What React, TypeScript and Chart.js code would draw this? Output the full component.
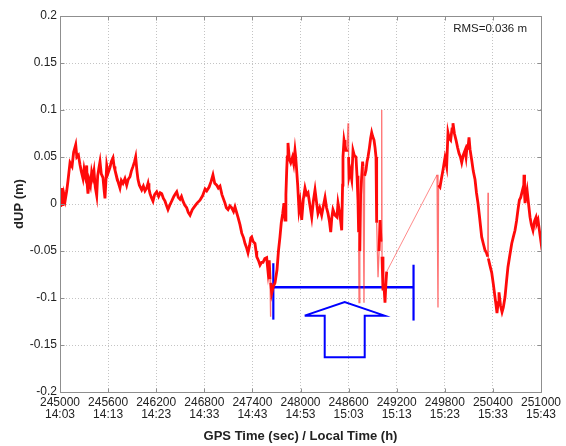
import React, { useEffect, useRef } from "react";
import { Chart, registerables } from "chart.js";

Chart.register(...registerables);

// ---- data ----
const gpsTime: number[] = [
  245000, 245010, 245021, 245030, 245037, 245050, 245065, 245084, 245100, 245125,
  245150, 245170, 245196, 245210, 245230, 245249, 245265, 245287, 245300, 245315,
  245333, 245340, 245349, 245365, 245380, 245395, 245410, 245424, 245440, 245458,
  245470, 245485, 245499, 245515, 245536, 245550, 245561, 245583, 245600, 245624,
  245640, 245661, 245675, 245686, 245710, 245730, 245748, 245765, 245786, 245810,
  245832, 245850, 245873, 245890, 245911, 245930, 245944, 245960, 245973, 245990,
  246019, 246040, 246060, 246081, 246098, 246110, 246123, 246140, 246160, 246180,
  246206, 246230, 246250, 246269, 246290, 246310, 246330, 246347, 246370, 246393,
  246420, 246440, 246456, 246475, 246497, 246515, 246534, 246555, 246580, 246600,
  246622, 246650, 246684, 246710, 246746, 246780, 246810, 246830, 246860, 246885,
  246908, 246930, 246955, 246975, 246996, 247020, 247058, 247075, 247096, 247120,
  247142, 247165, 247183, 247200, 247220, 247245, 247267, 247290, 247308, 247325,
  247345, 247365, 247380, 247391, 247410, 247432, 247445, 247454, 247475, 247495,
  247515, 247532, 247555, 247578, 247595, 247610, 247620, 247625, 247629, 247641,
  247660, 247682, 247707, 247725, 247744, 247760, 247778, 247794, 247807, 247818,
  247828, 247835, 247844, 247860, 247878, 247900, 247915, 247931, 247940, 247952,
  247965, 247981, 247995, 248015, 248035, 248056, 248075, 248094, 248115, 248140,
  248160, 248181, 248200, 248218, 248240, 248264, 248285, 248306, 248325, 248343,
  248360, 248377, 248390, 248405, 248430, 248455, 248468, 248490, 248514, 248525,
  248530, 248543, 248555, 248568, 248580, 248593, 248600, 248605, 248620, 248639,
  248655, 248670, 248692, 248705, 248717, 248725, 248730, 248740, 248750, 248763,
  248775, 248780, 248792, 248800, 248817, 248830, 248842, 248860, 248875, 248888,
  248900, 248917, 248930, 248942, 248950, 248967, 248980, 248992, 249005, 249013,
  249017, 249029, 249040, 249054, 249065, 249075,
  249703, 249715, 249722, 249740, 249760, 249777, 249802, 249823, 249840, 249855,
  249873, 249890, 249902, 249920, 249940, 249960, 249977, 249995, 250011, 250030,
  250052, 250065, 250077, 250090, 250102, 250115, 250135, 250155, 250177, 250195,
  250214, 250235, 250260, 250280, 250301, 250320, 250335, 250339, 250343, 250362,
  250385, 250405, 250426, 250440, 250451, 250465, 250476, 250495, 250514, 250530,
  250551, 250570, 250588, 250610, 250635, 250655, 250676, 250695, 250713, 250730,
  250747, 250770, 250785, 250788, 250795, 250801, 250815, 250826, 250845, 250863,
  250880, 250900, 250920, 250938, 250950, 250963, 250980, 250996, 251000,
];

const dUp: number[] = [
  0.004, -0.003, 0.017, 0.008, -0.002, 0.010, 0.004, 0.014, 0.025, 0.044,
  0.040, 0.055, 0.063, 0.050, 0.052, 0.042, 0.035, 0.027, 0.037, 0.030,
  0.041, 0.020, 0.011, 0.025, 0.020, 0.034, 0.028, 0.035, 0.018, 0.009,
  0.030, 0.038, 0.045, 0.032, 0.028, 0.015, 0.006, 0.041, 0.033, 0.039,
  0.045, 0.049, 0.040, 0.036, 0.028, 0.022, 0.017, 0.025, 0.022, 0.027,
  0.020, 0.026, 0.029, 0.035, 0.040, 0.045, 0.050, 0.035, 0.026, 0.020,
  0.015, 0.019, 0.014, 0.017, 0.022, 0.016, 0.011, 0.007, 0.003, 0.010,
  0.013, 0.008, 0.012, 0.011, 0.006, 0.003, -0.002, -0.006, -0.001, 0.003,
  0.008, 0.011, 0.013, 0.007, 0.005, 0.008, 0.003, -0.001, -0.004, -0.009,
  -0.012, -0.006, -0.002, 0.001, 0.004, 0.009, 0.016, 0.014, 0.018, 0.024,
  0.031, 0.022, 0.020, 0.017, 0.019, 0.010, 0.001, -0.004, -0.006, -0.002,
  -0.004, -0.008, -0.003, -0.008, -0.014, -0.022, -0.031, -0.036, -0.042, -0.046,
  -0.052, -0.044, -0.036, -0.035, -0.040, -0.042, -0.050, -0.056, -0.060, -0.065,
  -0.062, -0.062, -0.058, -0.057, -0.072, -0.060, -0.080, -0.120, -0.084, -0.095,
  -0.088, -0.084, -0.070, -0.050, -0.035, -0.020, -0.010, 0.001, -0.017, 0.010,
  0.036, 0.050, 0.065, 0.048, 0.044, 0.050, 0.043, 0.057, 0.050, 0.036,
  0.020, -0.006, 0.002, -0.017, 0.005, 0.017, 0.010, 0.012, 0.000, -0.014,
  0.003, 0.015, 0.002, -0.010, -0.004, -0.012, -0.002, 0.007, -0.004, -0.010,
  -0.018, -0.030, -0.015, -0.006, -0.012, -0.014, 0.001, -0.010, -0.028, 0.020,
  0.050, 0.068, 0.062, 0.057, 0.058, 0.086, 0.050, 0.029, 0.035, 0.026,
  0.057, 0.052, 0.050, 0.030, 0.004, -0.030, -0.105, -0.050, 0.010, 0.029,
  0.045, 0.040, -0.105, 0.030, 0.036, 0.045, 0.050, 0.060, 0.070, 0.076,
  0.072, 0.068, 0.060, 0.050, -0.020, -0.078, -0.050, -0.017, -0.040, 0.100,
  -0.056, -0.092, -0.085, -0.105, -0.085, -0.072,
  0.031, -0.110, 0.020, 0.018, 0.028, 0.036, 0.049, 0.040, 0.076, 0.070,
  0.068, 0.080, 0.086, 0.075, 0.068, 0.060, 0.054, 0.050, 0.044, 0.052,
  0.057, 0.050, 0.061, 0.060, 0.071, 0.058, 0.047, 0.035, 0.026, 0.012,
  0.001, -0.015, -0.035, -0.042, -0.049, -0.052, -0.056, 0.012, -0.058, -0.065,
  -0.073, -0.085, -0.099, -0.108, -0.116, -0.105, -0.094, -0.108, -0.115, -0.110,
  -0.099, -0.082, -0.067, -0.055, -0.042, -0.035, -0.028, -0.018, -0.006, 0.004,
  0.007, 0.015, 0.020, 0.031, 0.010, 0.001, 0.010, 0.015, 0.000, -0.014,
  -0.022, -0.028, -0.018, -0.014, -0.020, -0.017, -0.028, -0.038, -0.035,
];

// blue annotation (data coordinates)
const spanTime: number[] = [247661, 249410];
const spanLevel = -0.0886;
const spanBarLow: number[] = [-0.123, -0.124];
const spanBarHigh: number[] = [-0.063, -0.0646];
const arrowTime: number[] = [248052, 248551, 249050, 248801, 248801, 248302, 248302, 248052];
const arrowLevel: number[] = [-0.1188, -0.1043, -0.1188, -0.1188, -0.1631, -0.1631, -0.1188, -0.1188];

// axes
const xTickValues: number[] = [245000, 245600, 246200, 246800, 247400, 248000, 248600, 249200, 249800, 250400, 251000];
const localTimes: string[] = ["14:03", "14:13", "14:23", "14:33", "14:43", "14:53", "15:03", "15:13", "15:23", "15:33", "15:43"];
const yTickValues: number[] = [-0.2, -0.15, -0.1, -0.05, 0, 0.05, 0.1, 0.15, 0.2];

const rmsLabel = "RMS=0.036 m";
const rmsAnchor = { x: 250825, y: 0.186 };

const FONT = '"Liberation Sans", Arial, Helvetica, sans-serif';

const framePlugin = {
  id: "matlabFrame",
  afterDraw(chart: any) {
    const { ctx, chartArea, scales } = chart;
    const { left, right, top, bottom } = chartArea;
    ctx.save();
    ctx.strokeStyle = "#8f8f8f";
    ctx.lineWidth = 1;
    const L = Math.round(left) + 0.5;
    const R = Math.round(right) + 0.5;
    const T = Math.round(top) + 0.5;
    const B = Math.round(bottom) + 0.5;
    ctx.beginPath();
    ctx.rect(L, T, R - L, B - T);
    ctx.stroke();
    ctx.beginPath();
    xTickValues.forEach((v) => {
      const p = Math.round(scales.x.getPixelForValue(v)) + 0.5;
      ctx.moveTo(p, B);
      ctx.lineTo(p, B - 4);
      ctx.moveTo(p, T);
      ctx.lineTo(p, T + 4);
    });
    yTickValues.forEach((v) => {
      const p = Math.round(scales.y.getPixelForValue(v)) + 0.5;
      ctx.moveTo(L, p);
      ctx.lineTo(L + 4, p);
      ctx.moveTo(R, p);
      ctx.lineTo(R - 4, p);
    });
    ctx.stroke();
    ctx.fillStyle = "#222";
    ctx.font = `11.5px ${FONT}`;
    ctx.textAlign = "right";
    ctx.textBaseline = "middle";
    ctx.fillText(rmsLabel, scales.x.getPixelForValue(rmsAnchor.x), scales.y.getPixelForValue(rmsAnchor.y));
    ctx.restore();
  },
};

const isGap = (c: any) => c.p1.parsed.x - c.p0.parsed.x > 300;
// an isolated spike: a point that stands far from both of its neighbours
const isSpikeAt = (i: number) => {
  if (i <= 0 || i >= dUp.length - 1) return false;
  const a = dUp[i] - dUp[i - 1];
  const b = dUp[i] - dUp[i + 1];
  return Math.sign(a) === Math.sign(b) && Math.abs(a) > 0.025 && Math.abs(b) > 0.025;
};
const isSpikeSeg = (c: any) => isSpikeAt(c.p0DataIndex) || isSpikeAt(c.p1DataIndex);

export default function App() {
  const ref = useRef<HTMLCanvasElement | null>(null);

  useEffect(() => {
    document.body.style.margin = "0";
    const canvas = ref.current;
    if (!canvas) return;

    const series = gpsTime.map((t, i) => ({ x: t, y: dUp[i] }));
    const spanLine = spanTime.map((t) => ({ x: t, y: spanLevel }));
    const leftBar = [
      { x: spanTime[0], y: spanBarLow[0] },
      { x: spanTime[0], y: spanBarHigh[0] },
    ];
    const rightBar = [
      { x: spanTime[1], y: spanBarLow[1] },
      { x: spanTime[1], y: spanBarHigh[1] },
    ];
    const arrow = arrowTime.map((t, i) => ({ x: t, y: arrowLevel[i] }));

    const blue = (data: any[], w: number) => ({
      data,
      showLine: true,
      borderColor: "#0000ff",
      borderWidth: w,
      pointRadius: 0,
      fill: false,
      tension: 0,
    });

    const chart = new Chart(canvas, {
      type: "scatter",
      data: {
        datasets: [
          {
            data: series,
            showLine: true,
            borderColor: "#ff0a0a",
            borderWidth: 2.8,
            pointRadius: 0,
            tension: 0,
            segment: {
              borderColor: (c: any) =>
                isGap(c) ? "rgba(255,60,60,0.6)" : isSpikeSeg(c) ? "rgba(255,20,20,0.6)" : undefined,
              borderWidth: (c: any) => (isGap(c) ? 1 : isSpikeSeg(c) ? 1.3 : undefined),
            },
          } as any,
          blue(spanLine, 2.5),
          blue(leftBar, 2.2),
          blue(rightBar, 2.2),
          blue(arrow, 2),
        ],
      },
      options: {
        animation: false,
        responsive: false,
        devicePixelRatio: 1,
        layout: { padding: { top: 16, right: 25, left: 0, bottom: 0 } },
        plugins: { legend: { display: false }, tooltip: { enabled: false } },
        scales: {
          x: {
            type: "linear",
            min: 245000,
            max: 251000,
            afterBuildTicks: (s: any) => {
              s.ticks = xTickValues.map((v) => ({ value: v }));
            },
            afterFit: (s: any) => {
              s.height = 54;
            },
            ticks: {
              autoSkip: false,
              maxRotation: 0,
              padding: 4,
              color: "#222",
              font: { family: FONT, size: 12, lineHeight: 1.05 },
              callback: (v: any, i: number) => [String(v), localTimes[i] ?? ""],
            },
            grid: { color: "#c4c4c4", lineWidth: 1, drawTicks: false },
            border: { display: false, dash: [1, 2] },
            title: {
              display: true,
              text: "GPS Time (sec) / Local Time (h)",
              color: "#222",
              font: { family: FONT, size: 13, weight: "bold" },
              padding: { top: 0, bottom: 2 },
            },
          },
          y: {
            type: "linear",
            min: -0.2,
            max: 0.2,
            afterBuildTicks: (s: any) => {
              s.ticks = yTickValues.map((v) => ({ value: v }));
            },
            afterFit: (s: any) => {
              s.width = 60;
            },
            ticks: {
              padding: 3,
              color: "#222",
              font: { family: FONT, size: 12 },
              callback: (v: any) => String(Number(Number(v).toFixed(2))),
            },
            grid: { color: "#c4c4c4", lineWidth: 1, drawTicks: false },
            border: { display: false, dash: [1, 2] },
            title: {
              display: true,
              text: "dUP (m)",
              color: "#222",
              font: { family: FONT, size: 13, weight: "bold" },
              padding: { top: 12, bottom: 0 },
            },
          },
        },
      } as any,
      plugins: [framePlugin],
    });

    return () => chart.destroy();
  }, []);

  return (
    <div style={{ position: "absolute", left: 0, top: 0, width: 566, height: 446, background: "#fff" }}>
      <canvas ref={ref} width={566} height={446} />
    </div>
  );
}
